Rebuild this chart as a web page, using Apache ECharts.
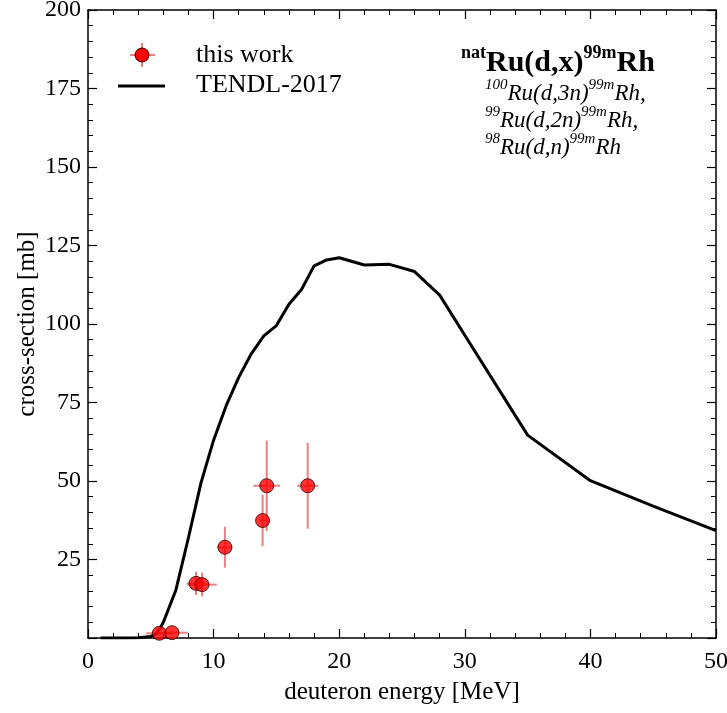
<!DOCTYPE html>
<html><head><meta charset="utf-8">
<script src="https://cdn.jsdelivr.net/npm/echarts@6/dist/echarts.min.js"></script>
<style>html,body{margin:0;padding:0;background:#fff}#c{width:727px;height:713px}</style>
</head><body><div id="c"></div>
<script>
// TENDL-2017 curve
const tendlE = [1,2,3,4,5,5.5,6,7,8,9,10,11,12,13,14,15,16,17,18,19,20,22,24,26,28,30,35,40,45,50];
const tendlS = [0,0,0,0.1,0.5,1.5,5,15.3,32,49.5,63,74,83,90.5,96.2,99.5,106.3,111,118.5,120.4,121.1,118.8,119,116.7,109.2,96.4,64.6,50.1,42,34.2];
// this work
const expE  = [5.68,6.69,8.6,9.08,10.9,13.9,14.23,17.49];
const expS  = [1.5,1.7,17.4,17.0,28.9,37.4,48.5,48.5];
const expdE = [1.05,1.25,0.74,1.17,0.6,0.3,1.07,0.84];
const expdS = [0.5,0.5,3.7,3.8,6.5,8.2,14.4,13.7];
const xTicks = [0,10,20,30,40,50];
const yTicks = [25,50,75,100,125,150,175,200];

const FONT = '"Liberation Serif","DejaVu Serif",serif';
const chart = echarts.init(document.getElementById('c'), null, {renderer:'canvas'});

const tick = {show:true, inside:true, length:9, lineStyle:{color:'#000', width:1.2}};
const minor = {show:true, length:5, splitNumber:5, lineStyle:{color:'#000', width:1}};
const axLine = {show:true, onZero:false, lineStyle:{color:'#000', width:1.5}};

const errColor = 'rgba(225,60,60,0.65)';

chart.setOption({
  animation:false,
  backgroundColor:'#fff',
  grid:{left:88, top:10, right:11, bottom:75, show:false, containLabel:false, outerBoundsMode:'none'},
  xAxis:[
    {type:'value', min:0, max:50, interval:10, axisLine:axLine, axisTick:tick, minorTick:minor,
     splitLine:{show:false},
     axisLabel:{color:'#000', fontFamily:FONT, fontSize:24, margin:12, hideOverlap:false,
       formatter:v=> xTicks.includes(v)? String(v):''},
     name:'deuteron energy [MeV]', nameLocation:'middle', nameGap:42, nameMoveOverlap:false,
     nameTextStyle:{color:'#000', fontFamily:FONT, fontSize:25}},
    {type:'value', position:'top', min:0, max:50, interval:10, axisLine:axLine, axisTick:tick, minorTick:minor,
     splitLine:{show:false}, axisLabel:{show:false}}
  ],
  yAxis:[
    {type:'value', min:0, max:200, interval:25, axisLine:axLine, axisTick:tick, minorTick:minor,
     splitLine:{show:false},
     axisLabel:{color:'#000', fontFamily:FONT, fontSize:24, margin:7, hideOverlap:false,
       formatter:v=> yTicks.includes(v)? String(v):''},
     name:'cross-section [mb]', nameLocation:'middle', nameGap:48, nameMoveOverlap:false,
     nameTextStyle:{color:'#000', fontFamily:FONT, fontSize:25}},
    {type:'value', position:'right', min:0, max:200, interval:25, axisLine:axLine, axisTick:tick, minorTick:minor,
     splitLine:{show:false}, axisLabel:{show:false}}
  ],
  series:[
    {type:'line', data:tendlE.map((e,i)=>[e,tendlS[i]]), symbol:'none', z:2,
     lineStyle:{color:'#000', width:3}},
    {type:'custom', z:3, data:expE.map((e,i)=>[e,expS[i],expdE[i],expdS[i]]),
     renderItem:(params, api)=>{
       const x=api.value(0), y=api.value(1), dx=api.value(2), dy=api.value(3);
       const l=api.coord([x-dx,y]), r=api.coord([x+dx,y]);
       const b=api.coord([x,y-dy]), t=api.coord([x,y+dy]);
       return {type:'group', children:[
         {type:'line', shape:{x1:l[0],y1:l[1],x2:r[0],y2:r[1]}, style:{stroke:errColor, lineWidth:2}},
         {type:'line', shape:{x1:b[0],y1:b[1],x2:t[0],y2:t[1]}, style:{stroke:errColor, lineWidth:2}}
       ]};
     }},
    {type:'scatter', z:4, data:expE.map((e,i)=>[e,expS[i]]), symbol:'circle', symbolSize:14,
     itemStyle:{color:'#ff0000', borderColor:'#300', borderWidth:1}}
  ],
  graphic:[
    // legend
    {type:'line', shape:{x1:130,y1:55,x2:155,y2:55}, style:{stroke:errColor, lineWidth:2}},
    {type:'line', shape:{x1:142,y1:43,x2:142,y2:67}, style:{stroke:errColor, lineWidth:2}},
    {type:'circle', shape:{cx:142,cy:55,r:7}, style:{fill:'#ff0000', stroke:'#300', lineWidth:1}},
    {type:'text', left:196, top:42, style:{text:'this work', fill:'#000', font:'26px '+FONT}},
    {type:'line', shape:{x1:118,y1:86,x2:165,y2:86}, style:{stroke:'#000', lineWidth:3}},
    {type:'text', left:196, top:72, style:{text:'TENDL-2017', fill:'#000', font:'26px '+FONT}},
    // reaction title
    {type:'text', left:461, top:44, style:{
      text:'{s|nat}{b|Ru(d,x)}{s|99m}{b|Rh}',
      rich:{
        b:{fontFamily:FONT, fontSize:30, fontWeight:'bold', fill:'#000', lineHeight:34, verticalAlign:'bottom'},
        s:{fontFamily:FONT, fontSize:18, fontWeight:'bold', fill:'#000', lineHeight:34, verticalAlign:'top'}
      }}},
    {type:'text', left:485, top:78, style:{
      text:'{s|100}{m|Ru(d,3n)}{s|99m}{m|Rh,}\n{s|99}{m|Ru(d,2n)}{s|99m}{m|Rh,}\n{s|98}{m|Ru(d,n)}{s|99m}{m|Rh}',
      rich:{
        m:{fontFamily:FONT, fontSize:23, fontStyle:'italic', fill:'#000', lineHeight:27, verticalAlign:'bottom'},
        s:{fontFamily:FONT, fontSize:15, fontStyle:'italic', fill:'#000', lineHeight:27, verticalAlign:'top'}
      }}}
  ]
});
</script></body></html>
